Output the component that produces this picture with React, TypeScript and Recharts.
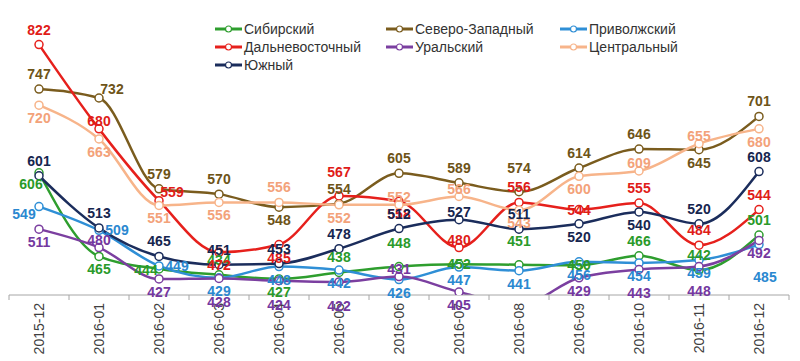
import React from 'react';
import { LineChart, Line, XAxis, YAxis, LabelList } from 'recharts';

const months = [
  '2015-12', '2016-01', '2016-02', '2016-03', '2016-04', '2016-05', '2016-06',
  '2016-07', '2016-08', '2016-09', '2016-10', '2016-11', '2016-12'
];

const siberian = [606, 465, 444, 434, 427, 438, 448, 452, 451, 450, 466, 442, 501];
const northWest = [747, 732, 579, 570, 548, 554, 605, 589, 574, 614, 646, 645, 701];
const volga = [549, 509, 449, 429, 448, 442, 426, 447, 441, 456, 454, 459, 485];
const farEast = [822, 680, 559, 472, 485, 567, 558, 480, 556, 544, 555, 484, 544];
const ural = [511, 480, 427, 428, 424, 422, 431, 405, 383, 429, 443, 448, 492];
const central = [720, 663, 551, 556, 556, 552, 552, 566, 543, 600, 609, 655, 680];
const southern = [601, 513, 465, 451, 453, 478, 512, 527, 511, 520, 540, 520, 608];

const Y_MIN = 400;
const Y_MAX = 850;
const FONT = '"Liberation Sans", Arial, sans-serif';

// label placement codes -> [dx, dy] from the point to the text baseline
const OFFSETS: Record<string, [number, number]> = {
  a: [0, -10],
  A: [0, -19],
  h: [0, -3],
  c: [0, 5],
  b: [0, 18],
  B: [0, 29],
  D: [6, 37],
  r: [18, 5],
  l: [-13, 6],
  L: [-15, 12],
  e: [13, -4],
  w: [-8, 16]
};

const series = [
  { key: 'sib', name: 'Сибирский', values: siberian, color: '#2e9e2e', labelColor: '#2a9a2a', place: 'wblabaAcAcaaa' },
  { key: 'nw', name: 'Северо-Западный', values: northWest, color: '#7a5c1e', labelColor: '#6e5418', place: 'aeaabaaaAaaba' },
  { key: 'vol', name: 'Приволжский', values: volga, color: '#2f8fd6', labelColor: '#2a88d0', place: 'LrrbbbbbbbbbD' },
  { key: 'fe', name: 'Дальневосточный', values: farEast, color: '#e6201c', labelColor: '#e01c18', place: 'ahebbAbhacaaa' },
  { key: 'ur', name: 'Уральский', values: ural, color: '#7b3fa0', labelColor: '#7438a0', place: 'bhbBBBhbbbBBb' },
  { key: 'cen', name: 'Центральный', values: central, color: '#f7b48a', labelColor: '#f3a27a', place: 'bbbbabhhbbhhb' },
  { key: 'south', name: 'Южный', values: southern, color: '#1b2d5c', labelColor: '#16264f', place: 'aaaaaaahabbaa' }
];

const data = months.map((m, i) => {
  const row: Record<string, string | number> = { month: m };
  series.forEach((s) => {
    row[s.key] = s.values[i];
  });
  return row;
});

const makeLabel = (color: string, place: string) => (props: any) => {
  const { value, index } = props;
  const x = props.x ?? props.viewBox?.x;
  const y = props.y ?? props.viewBox?.y;
  if (value == null || value < Y_MIN || x == null || y == null) return null;
  const [dx, dy] = OFFSETS[place[index]] || OFFSETS.a;
  return (
    <text
      x={x + dx}
      y={y + dy}
      textAnchor="middle"
      fill={color}
      fontSize={14}
      fontWeight="bold"
      fontFamily={FONT}
    >
      {value}
    </text>
  );
};

const BAND = 60;

const MonthTick = (props: any) => {
  const { x, y, payload, index } = props;
  const last = index === months.length - 1;
  const ty = y + 8;
  return (
    <g>
      <line x1={x - BAND / 2} y1={y} x2={x - BAND / 2} y2={y + 5} stroke="#a6a6a6" />
      {last && <line x1={x + BAND / 2} y1={y} x2={x + BAND / 2} y2={y + 5} stroke="#a6a6a6" />}
      <text
        x={x}
        y={ty}
        transform={`rotate(-90, ${x}, ${ty})`}
        textAnchor="end"
        dominantBaseline="central"
        fill="#404040"
        fontSize={14}
        fontFamily={FONT}
      >
        {payload.value}
      </text>
    </g>
  );
};

const legendOrder = ['sib', 'nw', 'vol', 'fe', 'ur', 'cen', 'south'];

const LegendBox = () => (
  <div
    style={{
      position: 'absolute',
      left: 215,
      top: 20,
      display: 'grid',
      gridTemplateColumns: '171px 174px 180px',
      gridAutoRows: '18px',
      fontFamily: FONT,
      fontSize: 14,
      color: '#333'
    }}
  >
    {legendOrder.map((k) => {
      const s = series.find((d) => d.key === k)!;
      return (
        <div key={k} style={{ display: 'flex', alignItems: 'center', whiteSpace: 'nowrap' }}>
          <svg width={28} height={10} style={{ marginRight: 1 }}>
            <line x1={0} y1={5} x2={27} y2={5} stroke={s.color} strokeWidth={3} />
            <circle cx={13.5} cy={5} r={3} fill="#fff" stroke={s.color} strokeWidth={1.2} />
          </svg>
          <span>{s.name}</span>
        </div>
      );
    })}
  </div>
);

export default function App() {
  return (
    <div style={{ position: 'absolute', left: 0, top: 0, width: 800, height: 361, background: '#fff' }}>
      <LineChart
        width={800}
        height={361}
        data={data}
        margin={{ top: 28, right: 11, left: 9, bottom: 0 }}
      >
        <XAxis
          dataKey="month"
          interval={0}
          padding={{ left: BAND / 2, right: BAND / 2 }}
          height={66}
          tickSize={0}
          tickMargin={0}
          tickLine={false}
          axisLine={{ stroke: '#a6a6a6' }}
          tick={<MonthTick />}
        />
        <YAxis hide domain={[Y_MIN, Y_MAX]} allowDataOverflow />
        {series.map((s) => (
          <Line
            key={s.key}
            dataKey={s.key}
            name={s.name}
            type="monotone"
            stroke={s.color}
            strokeWidth={2.5}
            dot={{ r: 4, fill: '#fff', stroke: s.color, strokeWidth: 1.5 }}
            isAnimationActive={false}
          >
            <LabelList dataKey={s.key} content={makeLabel(s.labelColor, s.place)} />
          </Line>
        ))}
      </LineChart>
      <LegendBox />
    </div>
  );
}
